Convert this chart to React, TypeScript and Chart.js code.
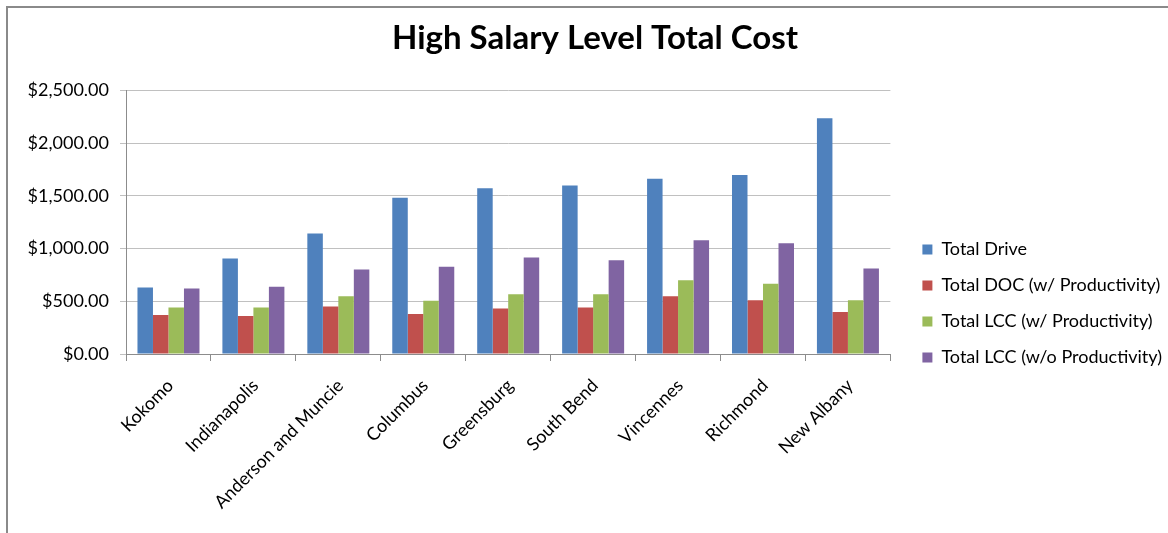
import React, { useEffect, useRef } from "react";
import { Chart, registerables } from "chart.js";

Chart.register(...registerables);

const categories = [
  "Kokomo",
  "Indianapolis",
  "Anderson and Muncie",
  "Columbus",
  "Greensburg",
  "South Bend",
  "Vincennes",
  "Richmond",
  "New Albany",
];

const totalDrive = [631, 906, 1143, 1484, 1572, 1600, 1664, 1698, 2238];
const totalDocWithProd = [369, 360, 451, 379, 432, 442, 549, 511, 398];
const totalLccWithProd = [442, 442, 549, 505, 568, 568, 701, 666, 511];
const totalLccWithoutProd = [622, 638, 802, 827, 915, 890, 1080, 1051, 811];

const seriesNames = [
  "Total Drive",
  "Total DOC (w/ Productivity)",
  "Total LCC (w/ Productivity)",
  "Total LCC (w/o Productivity)",
];
const seriesColors = ["#4F81BD", "#C0504D", "#9BBB59", "#8064A2"];

const yMin = 0;
const yMax = 2500;
const yStep = 500;

const FONT = "Lato, 'Open Sans', sans-serif";

const frameAndLegendPlugin = {
  id: "frameAndLegend",
  afterLayout(chart: any) {
    const lg = chart.legend;
    if (lg) {
      lg.left += 14;
      lg.right += 14;
      lg.top += 37;
      lg.bottom += 37;
    }
    const tb = chart.titleBlock;
    if (tb) {
      tb.left += 9;
      tb.right += 9;
    }
  },
  beforeDraw(chart: any) {
    const { ctx, width, height } = chart;
    ctx.save();
    ctx.fillStyle = "#ffffff";
    ctx.fillRect(0, 0, width, height);
    ctx.strokeStyle = "#8a8a8a";
    ctx.lineWidth = 2;
    ctx.beginPath();
    ctx.moveTo(7, height);
    ctx.lineTo(7, 7);
    ctx.lineTo(width, 7);
    ctx.stroke();
    ctx.restore();
  },
};

export default function App() {
  const canvasRef = useRef<HTMLCanvasElement | null>(null);

  useEffect(() => {
    if (!canvasRef.current) return;
    const data = [totalDrive, totalDocWithProd, totalLccWithProd, totalLccWithoutProd];
    const chart = new Chart(canvasRef.current, {
      type: "bar",
      data: {
        labels: categories,
        datasets: seriesNames.map((name, i) => ({
          label: name,
          data: data[i],
          backgroundColor: seriesColors[i],
          borderWidth: 0,
          categoryPercentage: 0.73,
          barPercentage: 1.0,
        })),
      },
      options: {
        responsive: false,
        animation: false,
        layout: { padding: { left: 14, right: 10, top: 0, bottom: 0 } },
        plugins: {
          title: {
            display: true,
            text: "High Salary Level Total Cost",
            color: "#000000",
            font: { family: FONT, size: 33, weight: "bold" },
            padding: { top: 19, bottom: 32 },
          },
          legend: {
            position: "right",
            align: "center",
            labels: {
              boxWidth: 10,
              boxHeight: 10,
              padding: 18,
              color: "#000000",
              font: { family: FONT, size: 18 },
            },
          },
          tooltip: { enabled: false },
        },
        scales: {
          x: {
            grid: {
              drawOnChartArea: false,
              drawTicks: true,
              tickLength: 7,
              color: "#8c8c8c",
            },
            border: { color: "#8c8c8c" },
            ticks: {
              color: "#000000",
              font: { family: FONT, size: 18 },
              maxRotation: 45,
              minRotation: 45,
              labelOffset: 2,
              padding: 14,
            },
            afterFit: (scale: any) => {
              scale.height = 179;
            },
          },
          y: {
            min: yMin,
            max: yMax,
            grid: { color: "#c0c0c0", tickLength: 6 },
            border: { color: "#8c8c8c" },
            ticks: {
              stepSize: yStep,
              color: "#000000",
              padding: 11,
              font: { family: FONT, size: 18 },
              callback: (v: any) =>
                "$" +
                Number(v).toLocaleString("en-US", {
                  minimumFractionDigits: 2,
                  maximumFractionDigits: 2,
                }),
            },
            afterFit: (scale: any) => {
              scale.width = 112;
            },
          },
        },
      },
      plugins: [frameAndLegendPlugin],
    });
    return () => chart.destroy();
  }, []);

  return (
    <div style={{ position: "fixed", left: 0, top: 0, width: 1168, height: 533, background: "#fff" }}>
      <canvas ref={canvasRef} width={1168} height={533} style={{ display: "block" }} />
    </div>
  );
}
